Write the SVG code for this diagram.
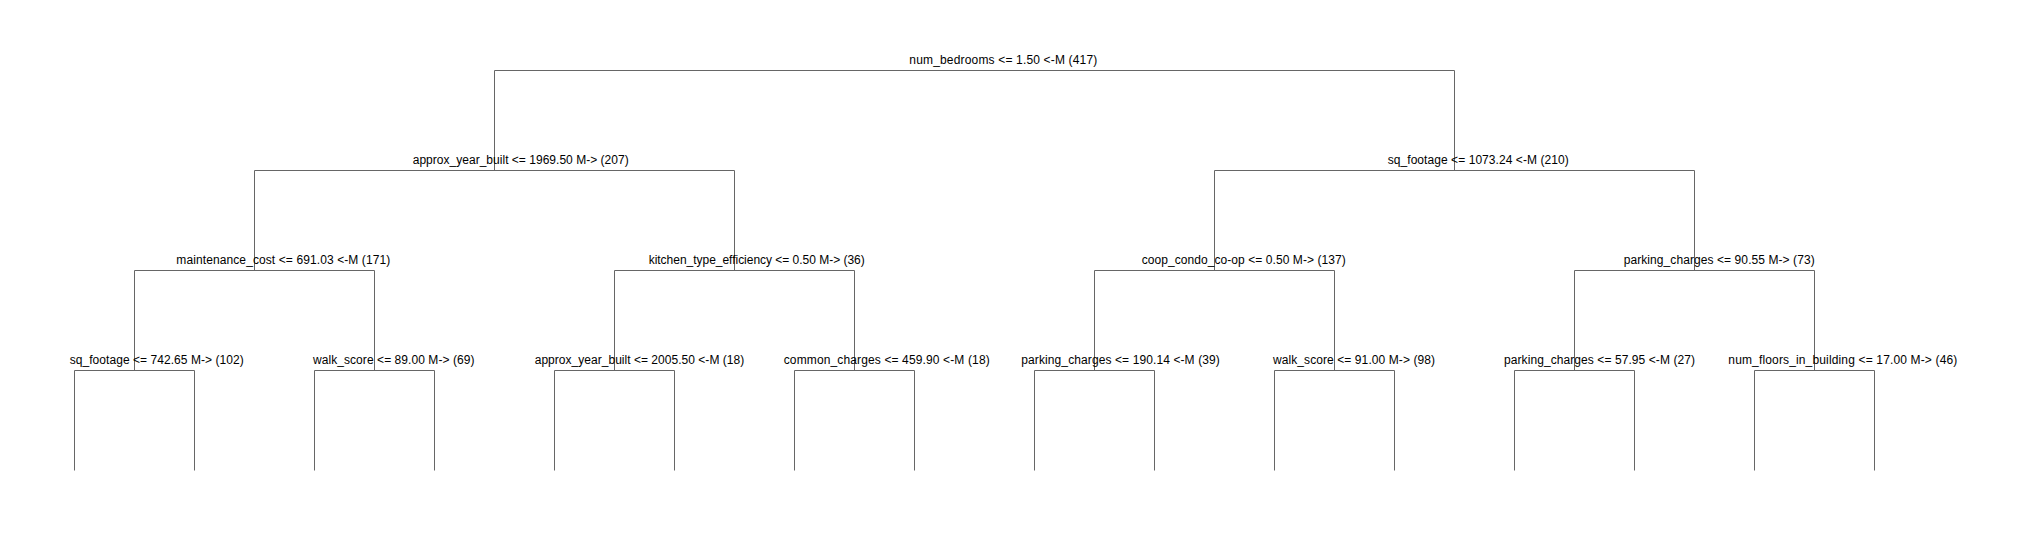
<svg xmlns="http://www.w3.org/2000/svg" width="2026" height="540" viewBox="0 0 2026 540">
<style>
text{font-family:"Liberation Sans",Arial,sans-serif;font-size:12px;fill:#000}
.c{fill:none;stroke:#666;stroke-width:1}
</style>
<rect width="2026" height="540" fill="#fff"/>
<g id="connectors" class="c">
<path d="M494.5,170.5V70.5H1454.5V170.5"/>
<path d="M254.5,270.5V170.5H734.5V270.5"/>
<path d="M1214.5,270.5V170.5H1694.5V270.5"/>
<path d="M134.5,370.5V270.5H374.5V370.5"/>
<path d="M614.5,370.5V270.5H854.5V370.5"/>
<path d="M1094.5,370.5V270.5H1334.5V370.5"/>
<path d="M1574.5,370.5V270.5H1814.5V370.5"/>
<path d="M74.5,470.5V370.5H194.5V470.5"/>
<path d="M314.5,470.5V370.5H434.5V470.5"/>
<path d="M554.5,470.5V370.5H674.5V470.5"/>
<path d="M794.5,470.5V370.5H914.5V470.5"/>
<path d="M1034.5,470.5V370.5H1154.5V470.5"/>
<path d="M1274.5,470.5V370.5H1394.5V470.5"/>
<path d="M1514.5,470.5V370.5H1634.5V470.5"/>
<path d="M1754.5,470.5V370.5H1874.5V470.5"/>
</g>
<g id="n_root"><text x="909.3" y="64" textLength="188">num_bedrooms &lt;= 1.50 &lt;-M (417)</text></g>
<g id="n_l"><text x="412.7" y="164" textLength="216">approx_year_built &lt;= 1969.50 M-&gt; (207)</text></g>
<g id="n_r"><text x="1387.7" y="164" textLength="181">sq_footage &lt;= 1073.24 &lt;-M (210)</text></g>
<g id="n_ll"><text x="176.3" y="264" textLength="214">maintenance_cost &lt;= 691.03 &lt;-M (171)</text></g>
<g id="n_lr"><text x="648.7" y="264" textLength="216">kitchen_type_efficiency &lt;= 0.50 M-&gt; (36)</text></g>
<g id="n_rl"><text x="1141.7" y="264" textLength="204">coop_condo_co-op &lt;= 0.50 M-&gt; (137)</text></g>
<g id="n_rr"><text x="1623.7" y="264" textLength="191">parking_charges &lt;= 90.55 M-&gt; (73)</text></g>
<g id="n_lll"><text x="69.7" y="364" textLength="174">sq_footage &lt;= 742.65 M-&gt; (102)</text></g>
<g id="n_llr"><text x="313" y="364" textLength="161.5">walk_score &lt;= 89.00 M-&gt; (69)</text></g>
<g id="n_lrl"><text x="534.7" y="364" textLength="209.5">approx_year_built &lt;= 2005.50 &lt;-M (18)</text></g>
<g id="n_lrr"><text x="783.7" y="364" textLength="206">common_charges &lt;= 459.90 &lt;-M (18)</text></g>
<g id="n_rll"><text x="1021.3" y="364" textLength="198.5">parking_charges &lt;= 190.14 &lt;-M (39)</text></g>
<g id="n_rlr"><text x="1273" y="364" textLength="162">walk_score &lt;= 91.00 M-&gt; (98)</text></g>
<g id="n_rrl"><text x="1504" y="364" textLength="191">parking_charges &lt;= 57.95 &lt;-M (27)</text></g>
<g id="n_rrr"><text x="1728.3" y="364" textLength="229">num_floors_in_building &lt;= 17.00 M-&gt; (46)</text></g>
</svg>
